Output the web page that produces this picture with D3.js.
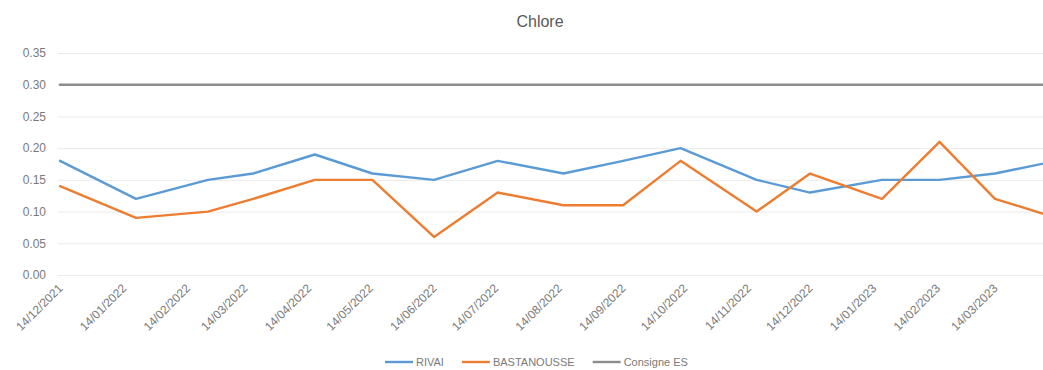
<!DOCTYPE html>
<html>
<head>
<meta charset="utf-8">
<script src="https://cdn.jsdelivr.net/npm/d3@7"></script>
<style>
  html, body { margin: 0; padding: 0; background: #fff; }
  svg { display: block; font-family: "Liberation Sans", Arial, sans-serif; }
</style>
</head>
<body>
<svg id="chart" width="1043" height="370"></svg>
<script>
// Sampling dates (dd/mm/yyyy)
const dates = [
  "14/12/2021", "20/01/2022", "24/02/2022", "18/03/2022", "17/04/2022",
  "15/05/2022", "14/06/2022", "15/07/2022", "16/08/2022", "14/09/2022",
  "12/10/2022", "18/11/2022", "14/12/2022", "18/01/2023", "15/02/2023",
  "14/03/2023", "13/04/2023"
];
// Chlorine readings (mg/L)
const rivai       = [0.18, 0.12, 0.15, 0.16, 0.19, 0.16, 0.15, 0.18, 0.16, 0.18, 0.20, 0.15, 0.13, 0.15, 0.15, 0.16, 0.18];
const bastanousse = [0.14, 0.09, 0.10, 0.12, 0.15, 0.15, 0.06, 0.13, 0.11, 0.11, 0.18, 0.10, 0.16, 0.12, 0.21, 0.12, 0.09];
const consigne    = [0.30, 0.30, 0.30, 0.30, 0.30, 0.30, 0.30, 0.30, 0.30, 0.30, 0.30, 0.30, 0.30, 0.30, 0.30, 0.30, 0.30];
// Axis labels
const yTicks = [0, 0.05, 0.10, 0.15, 0.20, 0.25, 0.30, 0.35];
const xTickLabels = [
  "14/12/2021", "14/01/2022", "14/02/2022", "14/03/2022", "14/04/2022", "14/05/2022",
  "14/06/2022", "14/07/2022", "14/08/2022", "14/09/2022", "14/10/2022", "14/11/2022",
  "14/12/2022", "14/01/2023", "14/02/2023", "14/03/2023"
];
const seriesNames = ["RIVAI", "BASTANOUSSE", "Consigne ES"];
const seriesColors = ["#5B9BD5", "#ED7D31", "#8C8C8C"];

const parse = d3.timeParse("%d/%m/%Y");
const fmt = d3.timeFormat("%d/%m/%Y");

const svg = d3.select("#chart");
const W = 1043, H = 370;

const x = d3.scaleTime()
  .domain([parse("14/12/2021"), parse("14/03/2023")])
  .range([60, 995]);
const y = d3.scaleLinear().domain([0, 0.35]).range([275, 53]);

// clip so the plot runs off the right edge
svg.append("clipPath").attr("id", "plotClip")
  .append("rect").attr("x", 0).attr("y", 0).attr("width", W).attr("height", H);

// title
svg.append("text")
  .attr("x", 540).attr("y", 27)
  .attr("text-anchor", "middle")
  .attr("font-size", 16)
  .attr("fill", "#595959")
  .text("Chlore");

// horizontal gridlines + y labels
const yAxis = d3.axisLeft(y)
  .tickValues(yTicks)
  .tickFormat(d3.format(".2f"))
  .tickSize(-(W - 58))
  .tickPadding(12);
const gy = svg.append("g").attr("transform", "translate(58,0)").call(yAxis);
gy.select(".domain").remove();
gy.selectAll(".tick line").attr("stroke", "#ebebeb").attr("stroke-width", 1);
gy.selectAll(".tick text").attr("font-size", 12).attr("fill", "#7a7a7a");

// x labels (rotated)
const xAxis = d3.axisBottom(x)
  .tickValues(xTickLabels.map(parse))
  .tickFormat(fmt)
  .tickSize(0)
  .tickPadding(0);
const gx = svg.append("g").attr("transform", "translate(0,286)").call(xAxis);
gx.select(".domain").remove();
gx.selectAll(".tick text")
  .attr("font-size", 12)
  .attr("fill", "#7a7a7a")
  .attr("text-anchor", "end")
  .attr("dy", "0.35em")
  .attr("transform", "rotate(-45)");

// series lines
const line = d3.line()
  .x((d, i) => x(parse(dates[i])))
  .y(d => y(d));

const plot = svg.append("g").attr("clip-path", "url(#plotClip)");
[consigne, rivai, bastanousse].forEach((vals, k) => {
  const idx = [2, 0, 1][k];
  plot.append("path")
    .datum(vals)
    .attr("fill", "none")
    .attr("stroke", seriesColors[idx])
    .attr("stroke-width", 2.4)
    .attr("stroke-linejoin", "round")
    .attr("stroke-linecap", "round")
    .attr("d", line);
});

// legend
const legend = svg.append("g").attr("transform", "translate(0,362)");
let lx = 385;
seriesNames.forEach((name, i) => {
  legend.append("line")
    .attr("x1", lx).attr("x2", lx + 28)
    .attr("y1", 0).attr("y2", 0)
    .attr("stroke", seriesColors[i])
    .attr("stroke-width", 2.4);
  const t = legend.append("text")
    .attr("x", lx + 31).attr("y", 0)
    .attr("dy", "0.35em")
    .attr("font-size", 11)
    .attr("fill", "#7a7a7a")
    .text(name);
  lx += 31 + t.node().getComputedTextLength() + 18;
});
</script>
</body>
</html>
